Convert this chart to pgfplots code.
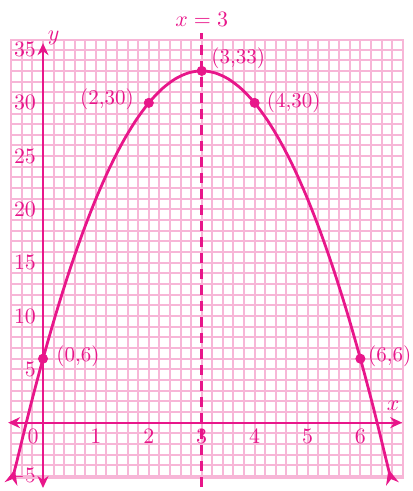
\documentclass[border=0pt]{standalone}
\usepackage{pgfplots}
\pgfplotsset{compat=1.18}
\usetikzlibrary{arrows.meta}
\definecolor{hot}{HTML}{E8168A}
\definecolor{gridpink}{HTML}{F7B6D7}

\begin{document}
\begin{tikzpicture}
\begin{axis}[
    x=26.45pt, y=5.33pt,
    xmin=-0.6, xmax=6.8,
    ymin=-5.2, ymax=35.9,
    axis lines=middle,
    axis line style={draw=none},
    major tick length=0pt, minor tick length=0pt,
    hide obscured x ticks=false,
    hide obscured y ticks=false,
    xtick={1,2,3,4,5,6},
    extra x ticks={0},
    extra x tick style={xticklabel style={xshift=-5pt}, grid=none},
    ytick={-5,5,10,15,20,25,30,35},
    minor xtick={-0.6,-0.4,-0.2,0,0.2,0.4,0.6,0.8,1,1.2,1.4,1.6,1.8,2,2.2,2.4,2.6,2.8,3,3.2,3.4,3.6,3.8,4,4.2,4.4,4.6,4.8,5,5.2,5.4,5.6,5.8,6,6.2,6.4,6.6,6.8},
    minor ytick={-5,-4,...,35},
    grid=minor,
    minor grid style={gridpink, line width=1pt},
    ticklabel style={font=\fontsize{11}{12}\selectfont, text=hot},
    clip=false,
]
% frame of the grid paper
\draw[gridpink, line width=1pt] (rel axis cs:0,0) rectangle (rel axis cs:1,1);

% coordinate axes
\draw[hot, line width=1pt, {Stealth[length=6pt,width=5.5pt]}-{Stealth[length=6pt,width=5.5pt]}]
    (axis cs:-0.66,0) -- (axis cs:6.79,0);
\draw[hot, line width=1pt, {Stealth[length=6pt,width=5.5pt]}-{Stealth[length=6pt,width=5.5pt]}]
    (axis cs:0,-6.13) -- (axis cs:0,35.6);
\node[text=hot, font=\fontsize{11}{12}\selectfont] at (axis cs:6.62,1.6) {$x$};
\node[text=hot, font=\fontsize{11}{12}\selectfont] at (axis cs:0.2,36.1) {$y$};

% axis of symmetry
\addplot[hot, line width=1.4pt, dash pattern=on 5pt off 3pt] coordinates {(3,-6.03) (3,36.56)};
\node[text=hot, font=\fontsize{10.5}{12}\selectfont] at (axis cs:3,37.8) {$x = 3$};

% parabola
\addplot[hot, line width=1.4pt, smooth,
    {Stealth[length=7.5pt,width=6.5pt]}-{Stealth[length=7.5pt,width=6.5pt]}] coordinates {
    (-0.53,-4.38) (-0.5,-3.75) (-0.25,1.3125) (0,6) (0.25,10.3125) (0.5,14.25)
    (0.75,17.8125) (1,21) (1.25,23.8125) (1.5,26.25) (1.75,28.3125) (2,30)
    (2.25,31.3125) (2.5,32.25) (2.75,32.8125) (3,33) (3.25,32.8125) (3.5,32.25)
    (3.75,31.3125) (4,30) (4.25,28.3125) (4.5,26.25) (4.75,23.8125) (5,21)
    (5.25,17.8125) (5.5,14.25) (5.75,10.3125) (6,6) (6.25,1.3125) (6.5,-3.75)
    (6.53,-4.38)
};

% labelled points
\addplot[only marks, mark=*, mark size=2.3pt, hot] coordinates {
    (0,6) (2,30) (3,33) (4,30) (6,6)
};
\node[text=hot, anchor=west, font=\fontsize{10.5}{12}\selectfont] at (axis cs:0.12,6.2) {(0,6)};
\node[text=hot, anchor=east, font=\fontsize{10.5}{12}\selectfont] at (axis cs:1.85,30.3) {(2,30)};
\node[text=hot, anchor=west, font=\fontsize{10.5}{12}\selectfont] at (axis cs:3.05,34.2) {(3,33)};
\node[text=hot, anchor=west, font=\fontsize{10.5}{12}\selectfont] at (axis cs:4.1,30.1) {(4,30)};
\node[text=hot, anchor=west, inner sep=0.5pt, font=\fontsize{10.5}{12}\selectfont] at (axis cs:6.12,6.2) {(6,6)};

\coordinate (BL) at (axis cs:-0.813,-6.41);
\coordinate (TR) at (axis cs:6.994,39.65);
\end{axis}
\pgfresetboundingbox
\path[use as bounding box] (BL) rectangle (TR);
\end{tikzpicture}
\end{document}
